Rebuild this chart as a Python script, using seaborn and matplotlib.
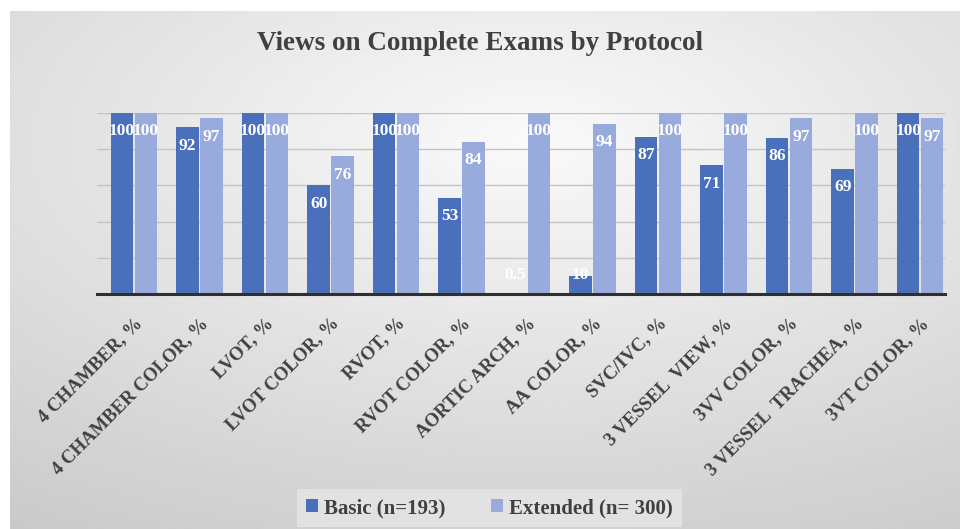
import numpy as np
import pandas as pd
import matplotlib
matplotlib.use("Agg")
import matplotlib.pyplot as plt
from matplotlib.patches import Patch
import seaborn as sns

categories = ["4 CHAMBER, %", "4 CHAMBER COLOR, %", "LVOT, %", "LVOT COLOR, %",
              "RVOT, %", "RVOT COLOR, %", "AORTIC ARCH, %", "AA COLOR, %",
              "SVC/IVC, %", "3 VESSEL  VIEW, %", "3VV COLOR, %",
              "3 VESSEL  TRACHEA, %", "3VT COLOR, %"]
basic = [100, 92, 100, 60, 100, 53, 0.5, 10, 87, 71, 86, 69, 100]
extended = [100, 97, 100, 76, 100, 84, 100, 94, 100, 100, 97, 100, 97]
series_names = ["Basic (n=193)", "Extended (n= 300)"]
colors = ["#4a70bb", "#99abdc"]

df = pd.DataFrame({
    "category": categories * 2,
    "value": basic + extended,
    "series": [series_names[0]] * len(categories) + [series_names[1]] * len(categories),
})

sns.set_theme(style="white")
plt.rcParams['font.family'] = ['Liberation Serif', 'DejaVu Serif']

W, H = 960, 529
fig = plt.figure(figsize=(W / 100, H / 100), dpi=100)
fig.patch.set_facecolor("white")

# gradient background
bg = fig.add_axes([10 / W, 0, 1 - 10 / W, 1 - 11 / H])
yy, xx = np.mgrid[0:1:200j, 0:1:300j]
r = np.sqrt(((xx - 0.55) / 1.0) ** 2 + ((yy - 0.25) / 0.9) ** 2)
val = np.clip(0.98 - 0.19 * r, 0.79, 1)
bg.imshow(val, cmap="gray", vmin=0, vmax=1, aspect="auto", extent=[0, 1, 1, 0])
bg.set_axis_off()

ax = fig.add_axes([97 / W, 1 - 294 / H, (945 - 97) / W, (294 - 113) / H])
ax.patch.set_alpha(0)
sns.barplot(data=df, x="category", y="value", hue="series", palette=colors,
            width=0.73, gap=0.06, ax=ax, legend=False, saturation=1, linewidth=0)

ax.set_xlim(-0.565, 12.38)
ax.set_ylim(0, 100)
ax.set_yticks([20, 40, 60, 80, 100])
ax.set_yticklabels([])
ax.grid(axis="y", color="#c4c4c4", linewidth=1)
ax.set_axisbelow(True)
for s in ["top", "right", "left"]:
    ax.spines[s].set_visible(False)
ax.spines["bottom"].set_color("#2f2f2f")
ax.spines["bottom"].set_linewidth(2.2)
ax.set_xlabel("")
ax.set_ylabel("")
ax.tick_params(axis="both", length=0)
ax.tick_params(axis="x", pad=15)
ax.set_xticks(range(len(categories)))
ax.set_xticklabels(categories, rotation=45, ha="right", rotation_mode="anchor",
                   fontsize=13.5, fontweight="bold", color="#404040")

for cont, vals in zip(ax.containers, [basic, extended]):
    for bar, v in zip(cont, vals):
        xc = bar.get_x() + bar.get_width() / 2
        lbl = f"{v:g}"
        ax.text(xc, max(v - 10, 10.5), lbl, ha="center", va="center",
                color="white", fontsize=12.5, fontweight="bold")

fig.text(0.5, 1 - 43 / H, "Views on Complete Exams by Protocol", ha="center",
         va="center", fontsize=19.5, fontweight="bold", color="#404040")

handles = [Patch(facecolor=c, edgecolor="none") for c in colors]
leg = fig.legend(handles, series_names, loc="center", bbox_to_anchor=(0.51, 1 - 508 / H),
                 ncol=2, frameon=True, fancybox=False, handlelength=0.55, handleheight=0.55,
                 handletextpad=0.3, columnspacing=2.2, borderpad=0.45,
                 prop={"family": "Liberation Serif", "weight": "bold", "size": 15})
leg.get_frame().set_facecolor("#e6e6e6")
leg.get_frame().set_edgecolor("none")
for t in leg.get_texts():
    t.set_color("#404040")

fig.savefig("out.png", dpi=100, facecolor=fig.get_facecolor())
